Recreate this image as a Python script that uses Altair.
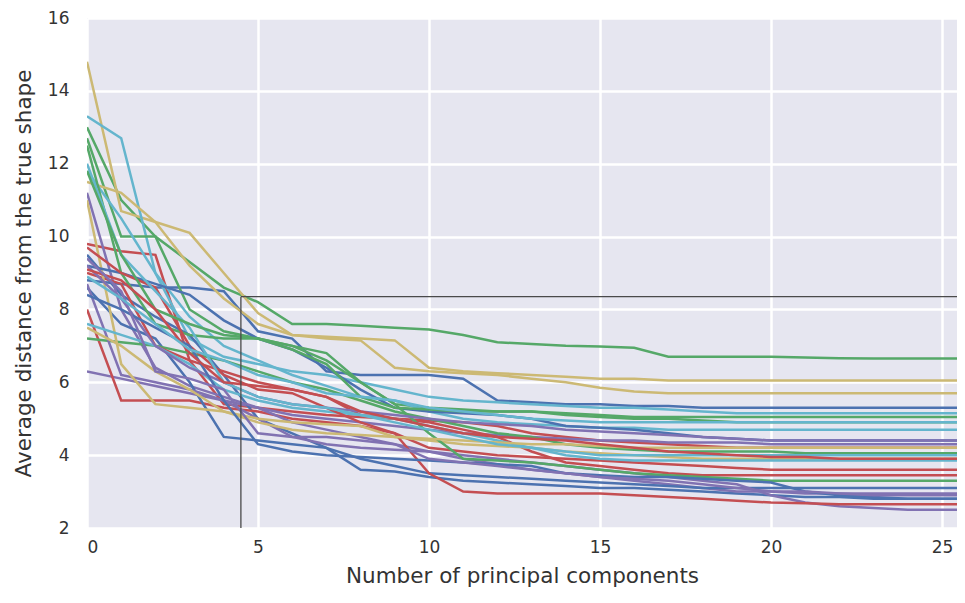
import altair as alt
import pandas as pd

# x positions: number of principal components
components = list(range(27))

# series values (average distance from the true shape), one list per curve
blue_1 = [8.8, 8.7, 8.6, 8.6, 8.5, 7.4, 7.2, 6.3, 6.2, 6.2, 6.2, 6.1, 5.5, 5.45, 5.4, 5.4, 5.35, 5.35, 5.3, 5.3, 5.3, 5.3, 5.3, 5.3, 5.3, 5.3, 5.3]
blue_2 = [9.5, 8.4, 7.8, 7.3, 6.2, 5.0, 4.6, 4.2, 3.6, 3.55, 3.4, 3.3, 3.25, 3.2, 3.15, 3.1, 3.1, 3.05, 3.0, 2.95, 2.9, 2.85, 2.85, 2.8, 2.8, 2.8, 2.8]
blue_3 = [8.6, 7.6, 7.2, 6.0, 4.5, 4.4, 4.3, 4.2, 3.9, 3.7, 3.5, 3.45, 3.4, 3.35, 3.3, 3.25, 3.2, 3.15, 3.1, 3.1, 3.1, 3.1, 3.1, 3.1, 3.1, 3.1, 3.1]
blue_4 = [9.2, 9.0, 8.7, 8.4, 7.7, 7.2, 6.9, 6.4, 5.8, 5.3, 5.2, 5.15, 5.1, 5.0, 4.8, 4.75, 4.7, 4.6, 4.5, 4.45, 4.4, 4.4, 4.4, 4.4, 4.4, 4.4, 4.4]
blue_5 = [8.4, 8.0, 7.5, 7.0, 5.5, 4.3, 4.1, 4.0, 3.95, 3.9, 3.85, 3.8, 3.75, 3.7, 3.5, 3.45, 3.4, 3.4, 3.35, 3.3, 3.25, 3.0, 2.9, 2.85, 2.8, 2.8, 2.8]

green_1 = [13.0, 11.0, 10.0, 9.3, 8.6, 8.2, 7.6, 7.6, 7.55, 7.5, 7.45, 7.3, 7.1, 7.05, 7.0, 6.98, 6.95, 6.7, 6.7, 6.7, 6.7, 6.68, 6.66, 6.65, 6.65, 6.65, 6.65]
green_2 = [12.7, 10.0, 10.0, 8.0, 7.4, 7.2, 7.0, 6.8, 6.0, 5.4, 5.3, 5.25, 5.2, 5.2, 5.1, 5.05, 5.0, 5.0, 4.95, 4.9, 4.9, 4.9, 4.9, 4.9, 4.9, 4.9, 4.9]
green_3 = [7.2, 7.1, 7.0, 6.8, 6.6, 6.3, 6.0, 5.8, 5.5, 5.2, 5.0, 4.8, 4.6, 4.5, 4.3, 4.2, 4.15, 4.1, 4.1, 4.1, 4.1, 4.05, 4.05, 4.05, 4.05, 4.05, 4.05]
green_4 = [12.5, 9.0, 7.6, 7.3, 7.2, 7.2, 7.0, 6.6, 6.0, 5.4, 4.6, 3.9, 3.85, 3.8, 3.7, 3.6, 3.5, 3.45, 3.4, 3.35, 3.3, 3.3, 3.3, 3.3, 3.3, 3.3, 3.3]
green_5 = [11.8, 9.5, 8.0, 7.6, 7.3, 7.2, 6.9, 6.5, 5.6, 5.3, 5.25, 5.2, 5.2, 5.2, 5.15, 5.1, 5.05, 5.05, 5.05, 5.05, 5.05, 5.05, 5.05, 5.05, 5.05, 5.05, 5.05]

red_1 = [9.8, 9.6, 9.5, 6.6, 5.4, 5.3, 5.2, 5.1, 5.05, 5.0, 4.95, 4.9, 4.8, 4.6, 4.5, 4.4, 4.35, 4.3, 4.25, 4.2, 4.2, 4.2, 4.2, 4.2, 4.2, 4.2, 4.2]
red_2 = [8.0, 5.5, 5.5, 5.5, 5.3, 5.2, 5.0, 4.9, 4.8, 4.6, 4.2, 4.1, 4.0, 3.95, 3.9, 3.85, 3.8, 3.75, 3.7, 3.65, 3.6, 3.6, 3.6, 3.6, 3.6, 3.6, 3.6]
red_3 = [9.0, 8.7, 7.0, 6.6, 6.3, 6.0, 5.8, 5.6, 5.1, 5.0, 4.9, 4.7, 4.5, 4.1, 3.8, 3.7, 3.6, 3.5, 3.45, 3.45, 3.45, 3.45, 3.45, 3.45, 3.45, 3.45, 3.45]
red_4 = [9.7, 9.0, 8.6, 7.0, 6.2, 5.8, 5.7, 5.3, 4.9, 4.6, 3.5, 3.0, 2.95, 2.95, 2.95, 2.95, 2.9, 2.85, 2.8, 2.75, 2.7, 2.68, 2.65, 2.65, 2.65, 2.65, 2.65]
red_5 = [9.1, 8.8, 8.0, 6.8, 6.0, 5.9, 5.8, 5.6, 5.2, 5.0, 4.8, 4.6, 4.5, 4.45, 4.4, 4.3, 4.2, 4.1, 4.05, 4.0, 3.95, 3.95, 3.9, 3.9, 3.9, 3.9, 3.9]

purple_1 = [6.3, 6.1, 5.9, 5.7, 5.5, 5.3, 5.1, 5.0, 4.9, 4.8, 4.7, 4.6, 4.55, 4.5, 4.45, 4.4, 4.4, 4.35, 4.35, 4.35, 4.3, 4.3, 4.3, 4.3, 4.3, 4.3, 4.3]
purple_2 = [11.2, 8.0, 6.4, 5.9, 5.6, 5.3, 4.9, 4.7, 4.5, 4.3, 4.1, 3.9, 3.75, 3.6, 3.5, 3.4, 3.3, 3.2, 3.1, 3.0, 3.0, 2.95, 2.95, 2.95, 2.95, 2.95, 2.95]
purple_3 = [8.7, 6.2, 6.0, 5.8, 5.5, 5.0, 4.5, 4.3, 4.2, 4.15, 4.1, 4.0, 3.9, 3.8, 3.7, 3.6, 3.5, 3.4, 3.3, 3.2, 2.9, 2.7, 2.6, 2.55, 2.5, 2.5, 2.5]
purple_4 = [9.2, 8.3, 7.0, 6.4, 6.0, 5.6, 5.4, 5.3, 5.2, 5.1, 5.0, 4.9, 4.85, 4.8, 4.7, 4.65, 4.6, 4.55, 4.5, 4.45, 4.4, 4.4, 4.4, 4.4, 4.4, 4.4, 4.4]
purple_5 = [9.4, 8.5, 6.3, 6.1, 5.8, 4.6, 4.5, 4.5, 4.4, 4.3, 3.9, 3.8, 3.7, 3.6, 3.5, 3.4, 3.35, 3.3, 3.2, 3.1, 3.0, 3.0, 2.95, 2.9, 2.9, 2.9, 2.9]

yellow_1 = [14.8, 10.7, 10.4, 10.1, 9.0, 7.9, 7.3, 7.25, 7.2, 7.15, 6.4, 6.3, 6.25, 6.2, 6.15, 6.1, 6.1, 6.05, 6.05, 6.05, 6.05, 6.05, 6.05, 6.05, 6.05, 6.05, 6.05]
yellow_2 = [11.5, 11.2, 10.4, 9.2, 8.3, 7.6, 7.3, 7.2, 7.15, 6.4, 6.3, 6.25, 6.2, 6.1, 6.0, 5.85, 5.75, 5.7, 5.7, 5.7, 5.7, 5.7, 5.7, 5.7, 5.7, 5.7, 5.7]
yellow_3 = [11.0, 6.5, 5.4, 5.3, 5.2, 5.0, 4.9, 4.85, 4.8, 4.5, 4.4, 4.3, 4.25, 4.2, 4.1, 4.05, 4.0, 3.95, 3.9, 3.9, 3.9, 3.9, 3.9, 3.9, 3.9, 3.9, 3.9]
yellow_4 = [7.5, 7.0, 6.3, 5.8, 5.2, 4.9, 4.7, 4.6, 4.55, 4.5, 4.45, 4.4, 4.35, 4.3, 4.3, 4.25, 4.2, 4.2, 4.2, 4.2, 4.2, 4.2, 4.2, 4.2, 4.2, 4.2, 4.2]

cyan_1 = [13.3, 12.7, 9.0, 7.2, 6.7, 6.5, 6.3, 6.2, 6.0, 5.8, 5.6, 5.5, 5.45, 5.4, 5.35, 5.3, 5.3, 5.25, 5.2, 5.15, 5.15, 5.15, 5.15, 5.15, 5.15, 5.15, 5.15]
cyan_2 = [11.8, 10.5, 9.0, 7.8, 7.0, 6.6, 6.2, 5.9, 5.6, 5.5, 5.2, 5.0, 4.9, 4.85, 4.8, 4.75, 4.75, 4.7, 4.7, 4.7, 4.7, 4.7, 4.7, 4.7, 4.7, 4.7, 4.7]
cyan_3 = [7.6, 7.3, 7.0, 6.5, 5.8, 5.5, 5.3, 5.2, 5.1, 5.0, 4.8, 4.6, 4.4, 4.2, 4.1, 4.0, 4.0, 4.0, 4.0, 4.0, 4.0, 4.0, 4.0, 4.0, 4.0, 4.0, 4.0]
cyan_4 = [12.0, 9.5, 8.5, 7.5, 6.0, 5.6, 5.4, 5.3, 5.1, 4.9, 4.7, 4.5, 4.3, 4.2, 4.0, 3.9, 3.85, 3.85, 3.85, 3.85, 3.85, 3.85, 3.85, 3.85, 3.85, 3.85, 3.85]
cyan_5 = [8.9, 8.3, 7.6, 6.9, 6.6, 6.2, 6.0, 5.7, 5.6, 5.5, 5.3, 5.2, 5.1, 5.0, 4.95, 4.9, 4.9, 4.9, 4.9, 4.9, 4.9, 4.9, 4.9, 4.9, 4.9, 4.9, 4.9]

series = {
    "blue_1": blue_1, "green_1": green_1, "red_1": red_1, "purple_1": purple_1, "yellow_1": yellow_1, "cyan_1": cyan_1,
    "blue_2": blue_2, "green_2": green_2, "red_2": red_2, "purple_2": purple_2, "yellow_2": yellow_2, "cyan_2": cyan_2,
    "blue_3": blue_3, "green_3": green_3, "red_3": red_3, "purple_3": purple_3, "yellow_3": yellow_3, "cyan_3": cyan_3,
    "blue_4": blue_4, "green_4": green_4, "red_4": red_4, "purple_4": purple_4, "yellow_4": yellow_4, "cyan_4": cyan_4,
    "blue_5": blue_5, "green_5": green_5, "red_5": red_5, "purple_5": purple_5, "cyan_5": cyan_5,
}

palette = {"blue": "#4C72B0", "green": "#55A868", "red": "#C44E52",
           "purple": "#8172B2", "yellow": "#CCB974", "cyan": "#64B5CD"}

# highlight box (x of vertical edge, y of horizontal edge)
box_x = 4.5
box_y = 8.35

x_max = 25.44
y_ticks = [2, 4, 6, 8, 10, 12, 14, 16]
x_ticks = [0, 5, 10, 15, 20, 25]

rows = []
for name, vals in series.items():
    for x, v in zip(components, vals):
        rows.append({"series": name, "k": x, "dist": v})
df = pd.DataFrame(rows)

names = list(series.keys())
colors = [palette[n.split("_")[0]] for n in names]

xscale = alt.Scale(domain=[0, x_max], nice=False, zero=False)
yscale = alt.Scale(domain=[2, 16], nice=False, zero=False)

lines = alt.Chart(df).mark_line(strokeWidth=2.5, clip=True).encode(
    x=alt.X("k:Q", scale=xscale,
            axis=alt.Axis(title="Number of principal components", values=x_ticks, format="d")),
    y=alt.Y("dist:Q", scale=yscale,
            axis=alt.Axis(title="Average distance from the true shape", values=y_ticks)),
    color=alt.Color("series:N", scale=alt.Scale(domain=names, range=colors), legend=None),
    detail="series:N",
)

box_df = pd.DataFrame([{"x": box_x, "y": 2, "x2": box_x, "y2": box_y},
                       {"x": box_x, "y": box_y, "x2": x_max, "y2": box_y}])
box = alt.Chart(box_df).mark_rule(color="#4a4a4a", strokeWidth=1.3).encode(
    x=alt.X("x:Q", scale=xscale), y=alt.Y("y:Q", scale=yscale),
    x2="x2:Q", y2="y2:Q",
)

chart = alt.layer(lines, box).properties(
    width=870, height=510,
    autosize=alt.AutoSizeParams(type="none"),
    padding={"left": 79, "top": 10, "right": 0, "bottom": 67},
    background="white",
).configure_view(
    fill="#E6E6F0", stroke=None,
).configure_axis(
    grid=True, gridColor="white", gridWidth=2.5, domain=False, ticks=False,
    labelFont="DejaVu Sans", labelFontSize=17, labelColor="#333333",
    titleFont="DejaVu Sans", titleFontSize=21.5, titleColor="#333333", titleFontWeight="normal",
).configure_axisX(
    labelPadding=11, titlePadding=10,
).configure_axisY(
    labelPadding=18, titlePadding=12,
)

chart.save("out.html", embed_options={"renderer": "svg", "actions": False})
